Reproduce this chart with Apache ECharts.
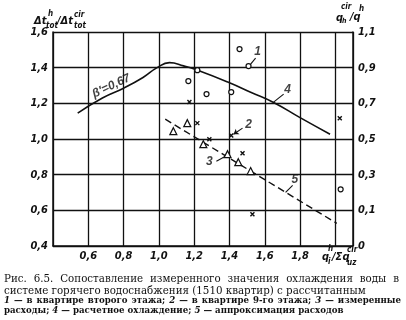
<!DOCTYPE html>
<html><head><meta charset="utf-8">
<script src="https://cdn.jsdelivr.net/npm/echarts@6/dist/echarts.min.js"></script>
<style>html,body{margin:0;padding:0;background:#fff}#c{width:406px;height:320px}</style>
</head><body><div id="c"></div>
<script>
// ---- data ----
const xTickLabels = {6:'0,6',8:'0,8',10:'1,0',12:'1,2',14:'1,4',16:'1,6',18:'1,8'};
const leftTickLabels = ['0,4','0,6','0,8','1,0','1,2','1,4','1,6'];
const rightTickLabels = ['0','0,1','0,3','0,5','0,7','0,9','1,1'];
const circles = [[1.457,1.504],[1.508,1.409],[1.218,1.386],[1.167,1.325],[1.27,1.252],[1.41,1.263],[2.03,0.718]];
const crosses = [[1.173,1.207],[2.025,1.117],[1.218,1.089],[1.286,0.999],[1.41,1.02],[1.474,0.92],[1.53,0.578]];
const triangles = [[1.082,1.044],[1.161,1.089],[1.252,0.971],[1.389,0.915],[1.45,0.87],[1.52,0.82]];
const calcCurve = [[0.54,1.145],[0.68,1.23],[0.80,1.285],[0.91,1.345],[0.99,1.40],[1.06,1.428],[1.14,1.41],[1.22,1.385],[1.40,1.315],[1.52,1.262],[1.65,1.205],[1.80,1.12],[1.97,1.027]];
const approxLine = [[1.036,1.111],[2.008,0.527]];
const annotationLabels = [['1',1.559,1.488],['4',1.73,1.274],['2',1.508,1.078],['3',1.286,0.870],['5',1.77,0.774]];
const leaders = [[[1.52,1.42],[1.548,1.454]],[[1.65,1.207],[1.707,1.252]],[[1.326,0.875],[1.377,0.903]],[[1.718,0.701],[1.758,0.74]]];
const arrowLeaders = [[[1.474,1.061],[1.423,1.027]]];
const betaLabel = ['β′=0,67',0.73,1.297];
const captionLines = [
  'Рис. 6.5. Сопоставление измеренного значения охлаждения воды в',
  'системе горячего водоснабжения (1510 квартир) с рассчитанным',
  '1 — в квартире второго этажа; 2 — в квартире 9-го этажа; 3 — измеренные',
  'расходы; 4 — расчетное охлаждение; 5 — аппроксимация расходов'
];

// ---- chart ----
const INK = '#111';
const tickFont = {fontFamily:'"Liberation Sans Narrow","DejaVu Sans Condensed",sans-serif', fontStyle:'italic', fontWeight:'bold', fontSize:11, color:INK};
const chart = echarts.init(document.getElementById('c'), null, {renderer:'canvas'});

const cvs = document.createElement('canvas').getContext('2d');
function measure(t, font){ cvs.font = font; return cvs.measureText(t).width; }
const graphics = [];
const fontOf = (w, size, weight) => (/^\d$/.test(w) ? 'italic ' : '') + weight + ' ' + size + 'px "DejaVu Serif", serif';
function naturalWidth(text, size, weight){ return measure(text, fontOf('a', size, weight)); }
function fitSize(text, target, weight){ return 10 * target / naturalWidth(text, 10, weight); }
function captionLine(text, x0, x1, y, size, weight, justify){
  const words = text.split(' ');
  const widths = words.map(w => measure(w, fontOf(w, size, weight)));
  const total = widths.reduce((a,b)=>a+b,0);
  const space = measure(' ', fontOf('a', size, weight));
  const gap = justify ? (x1 - x0 - total) / (words.length - 1) : space;
  let x = x0;
  words.forEach((w,i) => {
    graphics.push({type:'text', x:x, y:y, style:{text:w, font:fontOf(w, size, weight), fill:INK, textVerticalAlign:'middle', verticalAlign:'middle'}});
    x += widths[i] + gap;
  });
}
const bigSize = Math.min(12.5, fitSize(captionLines[1], 362, 'normal'));
const smallSize = Math.min(11, fitSize(captionLines[3], 340, 'bold'));
captionLine(captionLines[0], 4, 399, 279, bigSize, 'normal', true);
captionLine(captionLines[1], 4, 399, 291, bigSize, 'normal', false);
captionLine(captionLines[2], 4, 401, 301, smallSize, 'bold', true);
captionLine(captionLines[3], 4, 401, 311, smallSize, 'bold', false);

const tf = (s) => 'italic bold ' + s + 'px "Liberation Sans Narrow","DejaVu Sans Condensed",sans-serif';
function t(text, x, y, s){ graphics.push({type:'text', x:x, y:y, style:{text:text, font:tf(s), fill:INK, textVerticalAlign:'middle', verticalAlign:'middle'}}); }
// left axis title
t('Δt',34,21,11); t('h',48,14,8); t('tot',46,26,8); t('/Δt',57,21,11); t('cir',74,15,8); t('tot',74,26,8);
// right axis title
t('q',336,18,11); t('cir',341,7,8); t('h',342,21,7); t('/q',350,17,11); t('h',359,9,8);
// x axis title
t('q',322,257,11); t('h',328,249,8); t('i',328,262,8); t('/Σq',332,257,11); t('cir',347,250,8); t('uz',347,263,8);

chart.setOption({
  animation:false,
  backgroundColor:'#fff',
  grid:{left:53, right:53, top:32, bottom:74},
  xAxis:{type:'value', min:0.4, max:2.1, interval:0.2,
    axisLine:{show:true, lineStyle:{color:INK, width:1.5}}, axisTick:{show:false},
    splitLine:{show:true, lineStyle:{color:INK, width:1.3}},
    axisLabel:Object.assign({margin:5, formatter:v => xTickLabels[Math.round(v*10)] || ''}, tickFont)},
  yAxis:[
    {type:'value', min:0.4, max:1.6, interval:0.2, position:'left',
     axisLine:{show:true, lineStyle:{color:INK, width:1.5}}, axisTick:{show:false},
     splitLine:{show:true, lineStyle:{color:INK, width:1.3}},
     axisLabel:Object.assign({margin:5, formatter:v => leftTickLabels[Math.round((v-0.4)/0.2)] || ''}, tickFont)},
    {type:'value', min:0.4, max:1.6, interval:0.2, position:'right',
     axisLine:{show:true, lineStyle:{color:INK, width:1.5}}, axisTick:{show:false}, splitLine:{show:false},
     axisLabel:Object.assign({margin:5, formatter:v => rightTickLabels[Math.round((v-0.4)/0.2)] || ''}, tickFont)}
  ],
  series:[
    {type:'line', data:calcCurve, smooth:0.5, symbol:'none', lineStyle:{color:INK, width:1.6}, silent:true, z:2},
    {type:'line', data:approxLine, symbol:'none', lineStyle:{color:INK, width:1.4, type:[7,4]}, silent:true, z:2},
    {type:'scatter', data:circles, symbol:'circle', symbolSize:5, itemStyle:{color:'#fff', borderColor:INK, borderWidth:1.2, opacity:1}, z:5},
    {type:'scatter', data:crosses, symbol:'path://M0,0L10,10M10,0L0,10', symbolSize:4, itemStyle:{color:INK, borderColor:INK, borderWidth:1.4, opacity:1}, z:5},
    {type:'scatter', data:triangles, symbol:'triangle', symbolSize:7, itemStyle:{color:'#fff', borderColor:INK, borderWidth:1.2, opacity:1}, z:5},
    {type:'scatter', data:annotationLabels.map(a=>({name:a[0], value:[a[1],a[2]]})), symbolSize:0, silent:true, z:6,
     label:{show:true, position:'inside', formatter:p=>p.name, fontFamily:'"Liberation Sans Narrow",sans-serif', fontStyle:'italic', fontWeight:'bold', fontSize:12, color:INK},
     markLine:{silent:true, symbol:['none','none'], label:{show:false}, lineStyle:{color:INK, width:1.1, type:'solid'},
       data:leaders.map(l=>[{coord:l[0]},{coord:l[1]}])}},
    {type:'scatter', data:[{name:betaLabel[0], value:[betaLabel[1],betaLabel[2]]}], symbolSize:0, silent:true, z:6,
     label:{show:true, position:'inside', rotate:25, formatter:p=>p.name, fontFamily:'"Liberation Sans Narrow",sans-serif', fontStyle:'italic', fontWeight:'bold', fontSize:12, color:INK},
     markLine:{silent:true, symbol:['none','arrow'], symbolSize:5, label:{show:false}, lineStyle:{color:INK, width:1.1, type:'solid'},
       data:arrowLeaders.map(l=>[{coord:l[0]},{coord:l[1]}])}}
  ],
  graphic:graphics
});
</script></body></html>
